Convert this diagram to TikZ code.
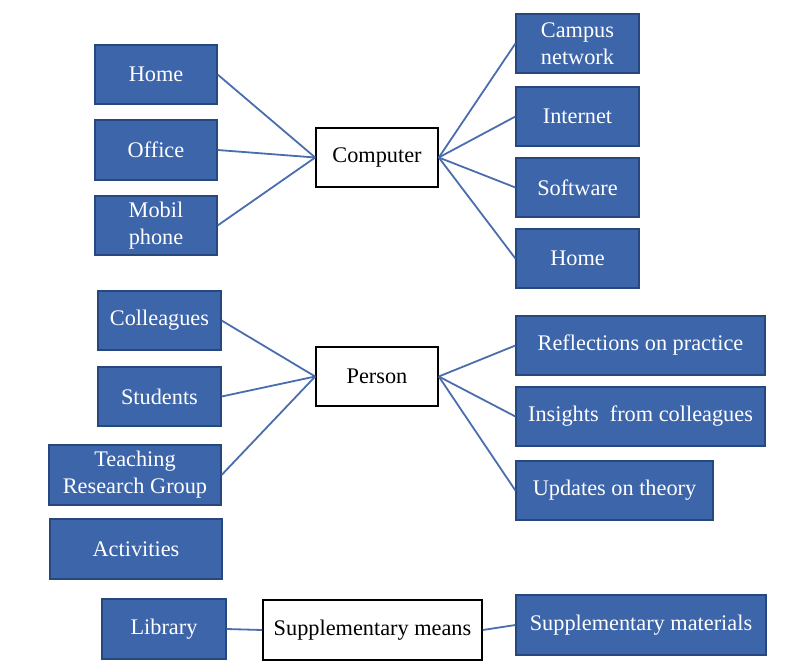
\documentclass[tikz,border=0pt]{standalone}
\usepackage{fontspec}
\setmainfont{Liberation Serif}
\definecolor{boxfill}{HTML}{3D65AA}
\definecolor{boxline}{HTML}{27477F}
\definecolor{linkcol}{HTML}{4A6DAE}
\begin{document}
\begin{tikzpicture}[x=1pt,y=-1pt,
  bluebox/.style={draw=boxline,fill=boxfill,line width=1.2pt,text=white,
    font=\fontsize{22.3}{27}\selectfont,align=center,inner sep=0pt},
  hubbox/.style={draw=black,fill=white,line width=1.6pt,text=black,
    font=\fontsize{22.3}{27}\selectfont,align=center,inner sep=0pt},
  link/.style={draw=linkcol,line width=1.8pt}]
\useasboundingbox (0,0) rectangle (801,662);
% helper: node at center with given width/height
\newcommand{\bx}[7]{\node[#1,minimum width=#4,minimum height=#5] (#2) at (#6,#7) {#3};}
% Computer group
\bx{hubbox}{comp}{Computer}{122}{59}{377}{157.5}
\bx{bluebox}{homeL}{Home}{122}{59}{156}{74.5}
\bx{bluebox}{office}{Office}{122}{60}{156}{150}
\bx{bluebox}{mobil}{Mobil\\phone}{122}{59}{156}{225.5}
\bx{bluebox}{campus}{Campus\\network}{123}{59}{577.5}{43.5}
\bx{bluebox}{internet}{Internet}{123}{59}{577.5}{116.5}
\bx{bluebox}{software}{Software}{123}{59}{577.5}{187.5}
\bx{bluebox}{homeR}{Home}{123}{59}{577.5}{258.5}
% Person group
\bx{hubbox}{person}{Person}{122}{59}{377}{376.5}
\bx{bluebox}{colleagues}{Colleagues}{123}{59}{159.5}{320.5}
\bx{bluebox}{students}{Students}{123}{59}{159.5}{396.5}
\bx{bluebox}{trg}{Teaching\\Research Group}{172}{60}{135}{475}
\bx{bluebox}{activities}{Activities}{172}{60}{136}{549}
\bx{bluebox}{reflect}{Reflections on practice}{249}{59}{640.5}{345.5}
\bx{bluebox}{insights}{Insights~ from colleagues}{249}{59}{640.5}{416.5}
\bx{bluebox}{updates}{Updates on theory}{197}{59}{614.5}{490.5}
% Supplementary
\bx{hubbox}{supp}{Supplementary means}{219}{60}{372.5}{630}
\bx{bluebox}{library}{Library}{124}{60}{164}{629}
\bx{bluebox}{materials}{Supplementary materials}{250}{60}{641}{625}
% links
\foreach \n in {homeL,office,mobil} \draw[link] (\n.east) -- (comp.west);
\foreach \n in {campus,internet,software,homeR} \draw[link] (comp.east) -- (\n.west);
\foreach \n in {colleagues,students,trg} \draw[link] (\n.east) -- (person.west);
\foreach \n in {reflect,insights,updates} \draw[link] (person.east) -- (\n.west);
\draw[link] (library.east) -- (supp.west);
\draw[link] (supp.east) -- (materials.west);
\end{tikzpicture}
\end{document}
